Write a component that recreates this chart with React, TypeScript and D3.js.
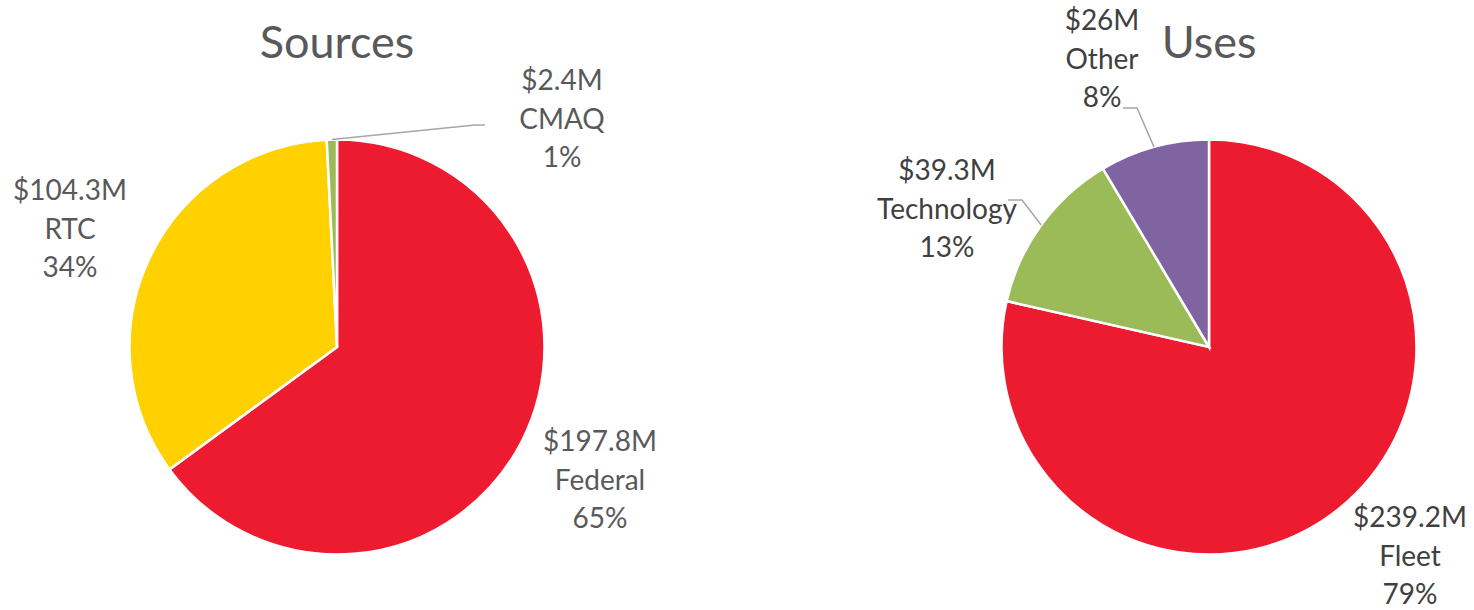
import * as d3 from "d3";

// Sources pie
const sourceNames = ["Federal", "RTC", "CMAQ"];
const sourceValues = [197.8, 104.3, 2.4];
const sourcePercents = ["65%", "34%", "1%"];

// Uses pie
const useNames = ["Fleet", "Technology", "Other"];
const useValues = [239.2, 39.3, 26];
const usePercents = ["79%", "13%", "8%"];

const W = 1474;
const H = 610;
const R = 207.5;
const FONT = "Lato, 'Open Sans', sans-serif";
const LINE = 38.5;

type LabelPos = { dx: number; dy: number; elbow?: [number, number]; end?: [number, number] };

type PieSpec = {
  title: string;
  cx: number;
  cy: number;
  names: string[];
  values: number[];
  percents: string[];
  colors: string[];
  textColor: string;
  labels: LabelPos[];
};

const pies: PieSpec[] = [
  {
    title: "Sources",
    cx: 337,
    cy: 347,
    names: sourceNames,
    values: sourceValues,
    percents: sourcePercents,
    colors: ["#ED1B2F", "#FFD100", "#9BBB59"],
    textColor: "#595959",
    labels: [
      { dx: 263, dy: 104 },
      { dx: -267, dy: -147 },
      { dx: 225, dy: -257, elbow: [138, -222], end: [148, -222] },
    ],
  },
  {
    title: "Uses",
    cx: 1209,
    cy: 347,
    names: useNames,
    values: useValues,
    percents: usePercents,
    colors: ["#ED1B2F", "#9BBB59", "#8064A2"],
    textColor: "#404040",
    labels: [
      { dx: 201, dy: 180 },
      { dx: -262, dy: -167, elbow: [-187, -147], end: [-201, -147] },
      { dx: -107, dy: -317, elbow: [-72, -239], end: [-86, -239] },
    ],
  },
];

function Pie({ spec }: { spec: PieSpec }) {
  const pie = d3.pie<number>().sort(null).value((d) => d);
  const arcs = pie(spec.values);
  const arc = d3.arc<d3.PieArcDatum<number>>().innerRadius(0).outerRadius(R);
  const edge = d3.arc<d3.PieArcDatum<number>>().innerRadius(R).outerRadius(R);

  return (
    <g transform={`translate(${spec.cx},${spec.cy})`}>
      <text
        x={0}
        y={58 - spec.cy}
        textAnchor="middle"
        fontFamily={FONT}
        fontSize={45}
        fill="#595959"
      >
        {spec.title}
      </text>
      {arcs.map((a, i) => (
        <path key={i} d={arc(a) || ""} fill={spec.colors[i]} stroke="#fff" strokeWidth={2.5} />
      ))}
      {arcs.map((a, i) => {
        const lp = spec.labels[i];
        if (!lp.elbow || !lp.end) return null;
        const [sx, sy] = edge.centroid(a);
        return (
          <polyline
            key={"l" + i}
            points={`${sx},${sy} ${lp.elbow[0]},${lp.elbow[1]} ${lp.end[0]},${lp.end[1]}`}
            fill="none"
            stroke="#A6A6A6"
            strokeWidth={1.5}
          />
        );
      })}
      {arcs.map((a, i) => {
        const lp = spec.labels[i];
        const lines = [`$${a.data}M`, spec.names[i], spec.percents[i]];
        return (
          <text
            key={"t" + i}
            textAnchor="middle"
            fontFamily={FONT}
            fontSize={28}
            fill={spec.textColor}
          >
            {lines.map((s, j) => (
              <tspan key={j} x={lp.dx} y={lp.dy + j * LINE}>
                {s}
              </tspan>
            ))}
          </text>
        );
      })}
    </g>
  );
}

export default function App() {
  return (
    <div style={{ position: "fixed", left: 0, top: 0 }}>
      <svg width={W} height={H} viewBox={`0 0 ${W} ${H}`} style={{ display: "block", background: "#fff" }}>
        {pies.map((p) => (
          <Pie key={p.title} spec={p} />
        ))}
      </svg>
    </div>
  );
}
